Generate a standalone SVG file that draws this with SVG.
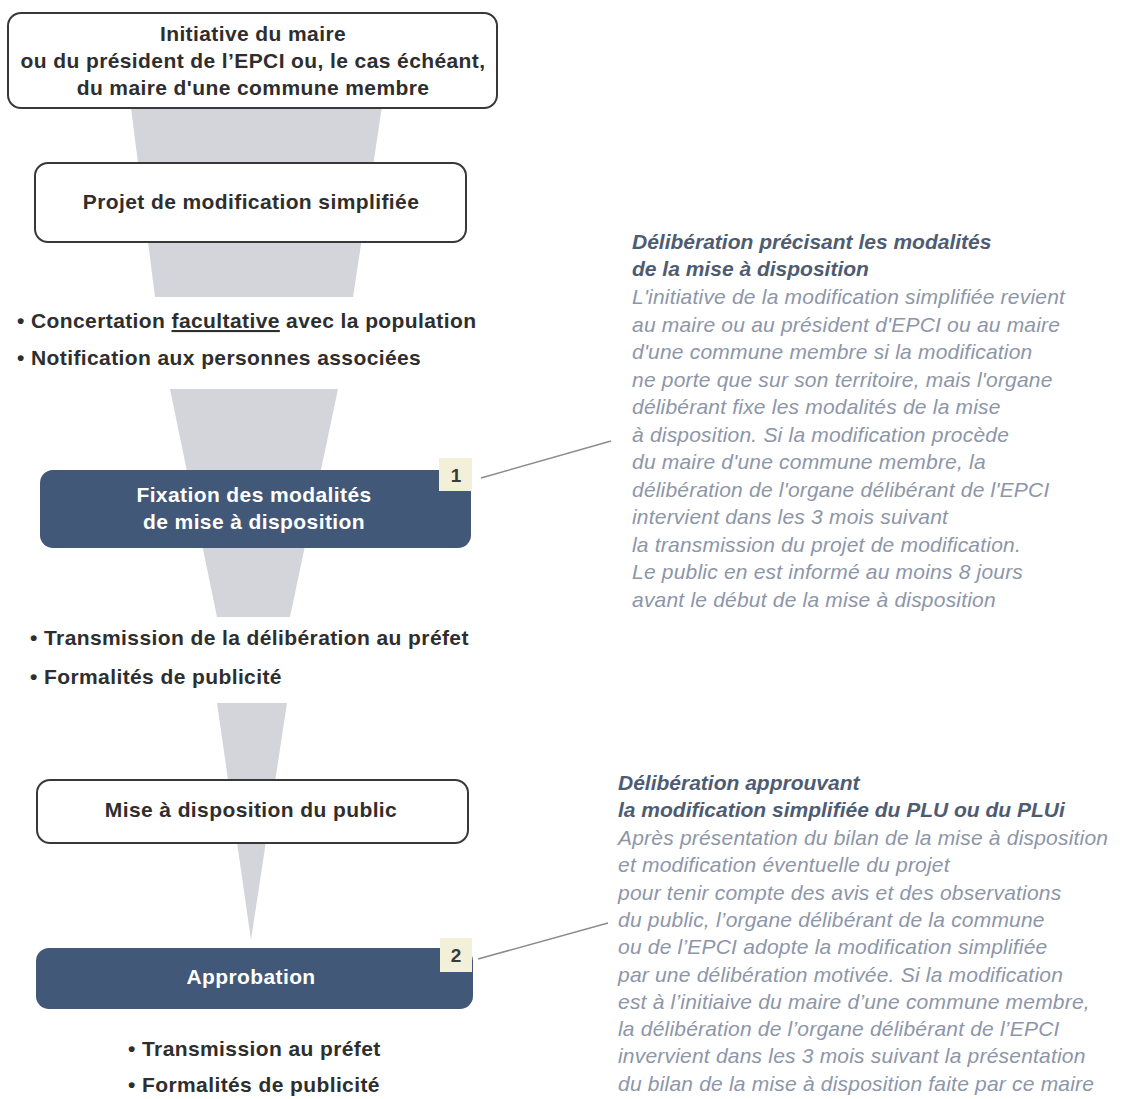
<svg xmlns="http://www.w3.org/2000/svg" width="1127" height="1099" viewBox="0 0 1127 1099">
<defs>
<style>
.bg{fill:#ffffff}
.funnel{fill:#d3d5da}
.box{fill:#ffffff;stroke:#383838;stroke-width:2}
.dark{fill:#425878}
.badge{fill:#f3f0da}
.lead{stroke:#8c8c8c;stroke-width:1.5;fill:none}
.t{font-family:"Liberation Sans",Arial,sans-serif;font-size:21px;font-weight:bold;letter-spacing:0.4px;fill:#2e2e2e}
.tc{text-anchor:middle}
.tw{fill:#ffffff}
.num{font-family:"Liberation Sans",Arial,sans-serif;font-size:19px;font-weight:bold;fill:#3a3a3a;text-anchor:middle}
.h{font-family:"Liberation Sans",Arial,sans-serif;font-size:21px;font-weight:bold;font-style:italic;fill:#4e5c73}
.b{font-family:"Liberation Sans",Arial,sans-serif;font-size:21px;font-style:italic;letter-spacing:0.2px;fill:#8d96a8}
</style>
</defs>
<rect class="bg" x="0" y="0" width="1127" height="1099"/>

<g id="connectors">
<polygon class="funnel" points="130,100 383,100 353,297 155,297"/>
<polygon class="funnel" points="170,389 338,389 290,617 217,617"/>
<polygon class="funnel" points="217,703 287,703 251,940"/>
<line class="lead" x1="481" y1="478" x2="611" y2="441"/>
<line class="lead" x1="478" y1="959" x2="608" y2="923"/>
</g>

<g id="node-initiative">
<rect class="box" x="8" y="13" width="489" height="95" rx="13"/>
<text class="t tc" x="253" y="41">Initiative du maire</text>
<text class="t tc" x="253" y="68">ou du président de l’EPCI ou, le cas échéant,</text>
<text class="t tc" x="253" y="95">du maire d'une commune membre</text>
</g>

<g id="node-projet">
<rect class="box" x="35" y="163" width="431" height="79" rx="13"/>
<text class="t tc" x="251" y="209">Projet de modification simplifiée</text>
</g>

<g id="list-1">
<text class="t" x="17" y="328">• Concertation <tspan style="text-decoration:underline">facultative</tspan> avec la population</text>
<text class="t" x="17" y="365">• Notification aux personnes associées</text>
</g>

<g id="node-fixation">
<rect class="dark" x="40" y="470" width="431" height="78" rx="13"/>
<text class="t tc tw" x="254" y="502">Fixation des modalités</text>
<text class="t tc tw" x="254" y="529">de mise à disposition</text>
<rect class="badge" x="439" y="458" width="33" height="33"/>
<text class="num" x="456" y="482">1</text>
</g>

<g id="list-2">
<text class="t" x="30" y="645">• Transmission de la délibération au préfet</text>
<text class="t" x="30" y="684">• Formalités de publicité</text>
</g>

<g id="node-mise">
<rect class="box" x="37" y="780" width="431" height="63" rx="13"/>
<text class="t tc" x="251" y="817">Mise à disposition du public</text>
</g>

<g id="node-approbation">
<rect class="dark" x="36" y="948" width="437" height="61" rx="13"/>
<text class="t tc tw" x="251" y="984">Approbation</text>
<rect class="badge" x="440" y="938" width="32" height="34"/>
<text class="num" x="456" y="962">2</text>
</g>

<g id="list-3">
<text class="t" x="128" y="1056">• Transmission au préfet</text>
<text class="t" x="128" y="1092">• Formalités de publicité</text>
</g>

<g id="note-1">
<text class="h" x="632" y="249">Délibération précisant les modalités</text>
<text class="h" x="632" y="276">de la mise à disposition</text>
<text class="b" x="632" y="304">L'initiative de la modification simplifiée revient</text>
<text class="b" x="632" y="331.5">au maire ou au président d'EPCI ou au maire</text>
<text class="b" x="632" y="359">d'une commune membre si la modification</text>
<text class="b" x="632" y="386.5">ne porte que sur son territoire, mais l'organe</text>
<text class="b" x="632" y="414">délibérant fixe les modalités de la mise</text>
<text class="b" x="632" y="441.5">à disposition. Si la modification procède</text>
<text class="b" x="632" y="469">du maire d'une commune membre, la</text>
<text class="b" x="632" y="496.5">délibération de l'organe délibérant de l'EPCI</text>
<text class="b" x="632" y="524">intervient dans les 3 mois suivant</text>
<text class="b" x="632" y="551.5">la transmission du projet de modification.</text>
<text class="b" x="632" y="579">Le public en est informé au moins 8 jours</text>
<text class="b" x="632" y="606.5">avant le début de la mise à disposition</text>
</g>

<g id="note-2">
<text class="h" x="618" y="790">Délibération approuvant</text>
<text class="h" x="618" y="817">la modification simplifiée du PLU ou du PLUi</text>
<text class="b" x="618" y="845">Après présentation du bilan de la mise à disposition</text>
<text class="b" x="618" y="872.3">et modification éventuelle du projet</text>
<text class="b" x="618" y="899.6">pour tenir compte des avis et des observations</text>
<text class="b" x="618" y="926.9">du public, l’organe délibérant de la commune</text>
<text class="b" x="618" y="954.2">ou de l’EPCI adopte la modification simplifiée</text>
<text class="b" x="618" y="981.5">par une délibération motivée. Si la modification</text>
<text class="b" x="618" y="1008.8">est à l’initiaive du maire d’une commune membre,</text>
<text class="b" x="618" y="1036.1">la délibération de l’organe délibérant de l’EPCI</text>
<text class="b" x="618" y="1063.4">invervient dans les 3 mois suivant la présentation</text>
<text class="b" x="618" y="1090.7">du bilan de la mise à disposition faite par ce maire</text>
</g>
</svg>
